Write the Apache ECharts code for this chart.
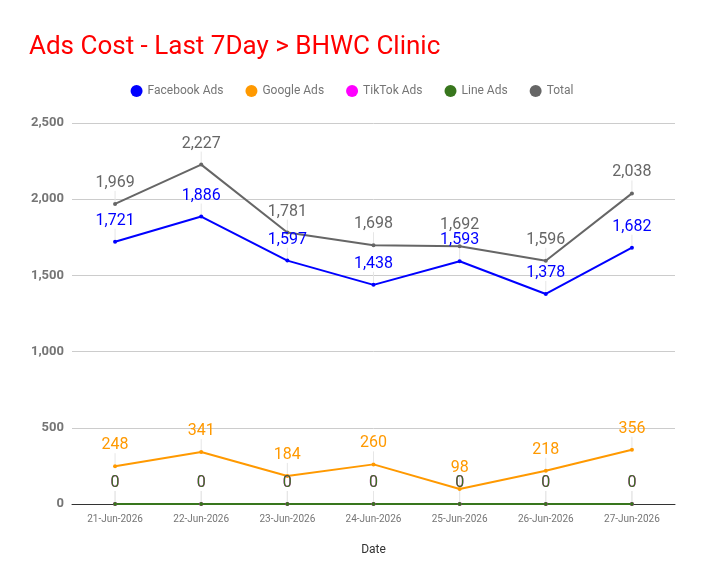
<!DOCTYPE html>
<html>
<head>
<meta charset="utf-8">
<script src="https://cdn.jsdelivr.net/npm/echarts@6/dist/echarts.min.js"></script>
<style>
  html, body { margin: 0; padding: 0; background: #fff; }
  #chart { width: 704px; height: 585px; }
</style>
</head>
<body>
<div id="chart"></div>
<script>
var dates = ["21-Jun-2026", "22-Jun-2026", "23-Jun-2026", "24-Jun-2026", "25-Jun-2026", "26-Jun-2026", "27-Jun-2026"];
var facebookAds = [1721, 1886, 1597, 1438, 1593, 1378, 1682];
var googleAds = [248, 341, 184, 260, 98, 218, 356];
var tiktokAds = [0, 0, 0, 0, 0, 0, 0];
var lineAds = [0, 0, 0, 0, 0, 0, 0];
var total = [1969, 2227, 1781, 1698, 1692, 1596, 2038];

function fmt(v) {
  return Number(v).toLocaleString("en-US");
}

function makeSeries(name, data, color) {
  return {
    name: name,
    type: "line",
    data: data,
    symbol: "circle",
    symbolSize: 4,
    itemStyle: { color: color },
    lineStyle: { color: color, width: 2 },
    label: {
      show: true,
      position: "top",
      distance: 5,
      color: color,
      fontSize: 16,
      fontFamily: "Roboto",
      formatter: function (p) { return fmt(p.value); }
    },
    labelLayout: { dy: -6 },
    labelLine: {
      show: true,
      lineStyle: { color: "#e6e6e6", width: 1 }
    }
  };
}

var chart = echarts.init(document.getElementById("chart"));
chart.setOption({
  animation: false,
  backgroundColor: "#fff",
  title: {
    text: "Ads Cost - Last 7Day > BHWC Clinic",
    left: 24,
    top: 29,
    textStyle: { color: "#ff0000", fontSize: 26, fontWeight: "normal", fontFamily: "Roboto" }
  },
  legend: {
    top: 80,
    left: "center",
    icon: "circle",
    itemWidth: 12,
    itemHeight: 12,
    itemGap: 22,
    textStyle: { color: "#757575", fontSize: 12, fontFamily: "Roboto" },
    data: ["Facebook Ads", "Google Ads", "TikTok Ads", "Line Ads", "Total"]
  },
  grid: { left: 72, right: 29, top: 123, bottom: 81 },
  xAxis: {
    type: "category",
    data: dates,
    boundaryGap: true,
    name: "Date",
    nameLocation: "middle",
    nameGap: 40,
    nameTextStyle: { color: "#333", fontSize: 12, fontFamily: "Roboto" },
    axisLine: { lineStyle: { color: "#333", width: 1 } },
    axisTick: { show: false },
    axisLabel: { color: "#757575", fontSize: 10, fontFamily: "Roboto", margin: 10 }
  },
  yAxis: {
    type: "value",
    min: 0,
    max: 2500,
    interval: 500,
    axisLine: { show: false },
    axisTick: { show: false },
    axisLabel: {
      color: "#757575",
      fontSize: 13,
      fontWeight: "bold",
      fontFamily: "Roboto",
      margin: 8,
      formatter: fmt
    },
    splitLine: { lineStyle: { color: "#cccccc", width: 1 } }
  },
  series: [
    makeSeries("Facebook Ads", facebookAds, "#0000ff"),
    makeSeries("Google Ads", googleAds, "#ff9900"),
    makeSeries("TikTok Ads", tiktokAds, "#ff00ff"),
    makeSeries("Line Ads", lineAds, "#38761d"),
    makeSeries("Total", total, "#666666")
  ]
});
</script>
</body>
</html>
